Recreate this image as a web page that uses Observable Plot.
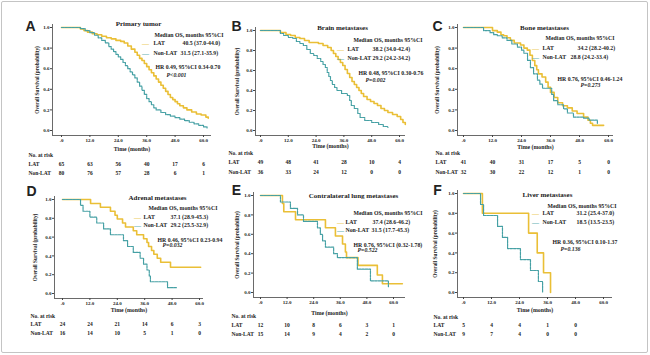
<!DOCTYPE html>
<html><head><meta charset="utf-8">
<script src="https://cdn.jsdelivr.net/npm/d3@7"></script>
<script src="https://cdn.jsdelivr.net/npm/@observablehq/plot@0.6"></script>
<style>
html,body{margin:0;padding:0;background:#fff;}
#frame{position:relative;width:650px;height:355px;overflow:hidden;background:#fff;}
#border{position:absolute;left:1px;top:1px;width:645px;height:350px;border:1.5px solid #c4c4c4;border-radius:2px;}
#frame svg{position:absolute;overflow:visible;}
</style></head><body><div id="frame"><div id="border"></div></div>
<script>
// ---------- DATA ----------
const timeTicks = [0, 12, 24, 36, 48, 60];
const survTicks = [0, 0.2, 0.4, 0.6, 0.8, 1.0];
const riskTimes = [0, 12, 24, 36, 48, 60];
const groupNames = ["LAT", "Non-LAT"];
const panelLetters = ["A", "B", "C", "D", "E", "F"];
const panelTitles = ["Primary tumor", "Brain metastases", "Bone metastases", "Adrenal metastases", "Contralateral lung metastases", "Liver metastases"];
const medianLAT = ["40.5 (37.0-44.0)", "38.2 (34.0-42.4)", "34.2 (28.2-40.2)", "37.1 (28.9-45.3)", "37.4 (28.6-46.2)", "31.2 (25.4-37.0)"];
const medianNonLAT = ["31.5 (27.1-35.9)", "29.2 (24.2-34.2)", "28.8 (24.2-33.4)", "29.2 (25.5-32.9)", "31.5 (17.7-45.3)", "18.5 (13.5-23.5)"];
const hrText = ["HR 0.49, 95%CI 0.34-0.70", "HR 0.48, 95%CI 0.30-0.76", "HR 0.76, 95%CI 0.46-1.24", "HR 0.46, 95%CI 0.23-0.94", "HR 0.76, 95%CI (0.32-1.78)", "HR 0.36, 95%CI 0.10-1.37"];
const pText = ["P<0.001", "P=0.002", "P=0.273", "P=0.032", "P=0.522", "P=0.136"];

// Kaplan-Meier steps [month, survival]
const primaryLAT = [[0,1],[8,0.985],[9.5,0.97],[11,0.955],[13,0.94],[15,0.93],[17,0.915],[19,0.9],[21,0.89],[23,0.875],[25,0.865],[26.5,0.85],[28,0.82],[29.5,0.79],[31,0.76],[32,0.73],[33,0.7],[34,0.68],[35,0.65],[36,0.62],[37,0.59],[38,0.56],[39,0.53],[40,0.5],[41,0.47],[42,0.44],[43,0.41],[44,0.38],[45,0.35],[46,0.32],[47,0.3],[48,0.28],[49,0.26],[50,0.24],[51.5,0.22],[53,0.2],[55,0.18],[57,0.16],[59,0.15],[61,0.13],[62,0.12]];
const primaryNon = [[0,1],[8,0.99],[10,0.97],[12,0.95],[14,0.925],[15.5,0.9],[17,0.875],[18.5,0.85],[20,0.815],[21,0.79],[22,0.765],[23,0.74],[24,0.715],[25,0.69],[26,0.66],[27,0.63],[28,0.6],[29,0.57],[30,0.54],[31,0.51],[32,0.47],[33,0.43],[34,0.39],[35,0.35],[36,0.31],[37,0.28],[38,0.25],[39,0.22],[40,0.2],[42,0.175],[44,0.155],[46,0.14],[48,0.125],[50,0.11],[52,0.095],[54,0.08],[56,0.065],[58,0.05],[60,0.035],[61.5,0.025]];
const brainLAT = [[0,1],[8.6,0.98],[11,0.96],[13,0.95],[15,0.93],[17,0.92],[19,0.9],[21,0.88],[25,0.87],[27,0.85],[29,0.83],[30.5,0.8],[31.5,0.77],[32.5,0.74],[33.5,0.71],[34.5,0.68],[35.5,0.65],[36.5,0.61],[37.5,0.57],[38.5,0.53],[39.5,0.49],[40.5,0.46],[41.5,0.43],[42.5,0.4],[43.5,0.37],[44.5,0.34],[46,0.31],[47.5,0.29],[49,0.27],[50.5,0.25],[52,0.22],[53.5,0.2],[55,0.18],[57,0.16],[59,0.14],[60.5,0.11],[61.5,0.08],[62.5,0.06]];
const brainNon = [[0,1],[8.6,0.97],[10,0.95],[12,0.93],[14,0.92],[15.5,0.89],[17,0.87],[18.5,0.85],[20,0.81],[21.5,0.77],[23,0.75],[24.5,0.72],[26,0.69],[27,0.66],[28,0.63],[28.8,0.58],[29.5,0.54],[30.2,0.5],[31,0.46],[32,0.43],[33,0.4],[35,0.37],[37.5,0.35],[38.5,0.3],[39.2,0.25],[40.5,0.22],[42,0.17],[43,0.13],[45,0.1],[48,0.08],[51,0.06],[53,0.04],[55,0.03]];
const boneLAT = [[0,1],[12,0.97],[14,0.955],[15.5,0.93],[16.6,0.92],[18,0.9],[19.4,0.875],[21,0.85],[23.6,0.83],[25,0.8],[26.4,0.78],[27.5,0.73],[28.5,0.68],[29.5,0.63],[30.3,0.59],[31,0.55],[32.5,0.52],[34,0.47],[35,0.42],[36,0.37],[37.5,0.32],[39,0.27],[41,0.24],[43,0.22],[45,0.19],[47,0.165],[49.7,0.13],[51.5,0.1],[52.5,0.07],[53.4,0.05],[58,0.05]];
const boneNon = [[0,1],[8.3,0.97],[11,0.95],[12.5,0.93],[14,0.92],[16,0.9],[18,0.875],[20,0.84],[22.3,0.81],[24,0.78],[25,0.75],[26.5,0.68],[27.7,0.61],[29,0.55],[30.6,0.49],[31.6,0.45],[32.7,0.41],[36,0.41],[36.5,0.35],[37.3,0.29],[39,0.25],[41.4,0.21],[43,0.17],[45.5,0.13],[49.7,0.12],[52,0.1],[55.4,0.07]];
const adrenalLAT = [[0,1],[12.3,0.958],[16.6,0.917],[21,0.875],[23,0.833],[24,0.792],[26.3,0.75],[27.6,0.708],[31,0.667],[32.5,0.625],[35.5,0.583],[37,0.542],[37.7,0.5],[39,0.458],[40,0.417],[41.5,0.375],[43,0.333],[47.3,0.28],[60.5,0.28]];
const adrenalNon = [[0,1],[7.9,0.9375],[9,0.875],[12,0.8125],[15,0.75],[18,0.6875],[21,0.625],[26.7,0.5625],[28.5,0.5],[31,0.4375],[34,0.375],[35.5,0.3125],[37,0.25],[38,0.1875],[38.5,0.125],[46,0.0625],[50,0.0625]];
const lungLAT = [[0,1],[9.9,0.917],[10.5,0.833],[15.8,0.75],[29.3,0.667],[33.8,0.583],[37,0.5],[38.3,0.417],[38.8,0.36],[44,0.28],[52.7,0.18],[55,0.09],[64,0.09]];
const lungNon = [[0,1],[9,0.933],[13.5,0.867],[16.7,0.8],[19.4,0.733],[25.7,0.667],[27,0.6],[28,0.533],[29.3,0.467],[33,0.4],[34.7,0.36],[43.7,0.24],[49.6,0.12],[57.7,0.06]];
const liverLAT = [[0,1],[8.1,0.8],[27.9,0.6],[31.6,0.4],[34.3,0.2],[37.3,0]];
const liverNon = [[0,1],[7.3,0.889],[8.6,0.778],[14.6,0.667],[16.7,0.556],[18.9,0.444],[24.4,0.333],[28.7,0.222],[32.1,0.111],[33.9,0]];

// numbers at risk
const primaryRiskLAT = [65, 63, 56, 40, 17, 6];
const primaryRiskNon = [80, 76, 57, 28, 6, 1];
const brainRiskLAT = [49, 48, 41, 28, 10, 4];
const brainRiskNon = [36, 33, 24, 12, 0, 0];
const boneRiskLAT = [41, 40, 31, 17, 5, 0];
const boneRiskNon = [32, 30, 22, 12, 1, 0];
const adrenalRiskLAT = [24, 24, 21, 14, 6, 3];
const adrenalRiskNon = [16, 14, 10, 5, 1, 0];
const lungRiskLAT = [12, 10, 8, 6, 3, 1];
const lungRiskNon = [15, 14, 9, 4, 2, 0];
const liverRiskLAT = [5, 4, 4, 1, 0];
const liverRiskNon = [9, 7, 4, 0, 0];

// ---------- LAYOUT (pixel placement only) ----------
const layouts = [
  {left:0, top:0, w:215, h:178, axisL:52, axisR:211, x0:61, x60:203, y1:27, y0:130, axisY:135,
   letter:[30,26], title:[138,23], timeY:149, ylabX:37, riskX:28, riskY:[155,164,173],
   med:[154,35], sw:145, name:153, latY:43, latV:182, nonY:53, nonV:180, hr:[155,67], p:[176,75]},
  {left:210, top:0, w:215, h:178, axisL:255, axisR:405, x0:260, x60:399, y1:30, y0:130, axisY:135,
   letter:[236,26], title:[342,27], timeY:146, ylabX:237, riskX:228, riskY:[153,162,172],
   med:[353,40], sw:340, name:347, latY:49, latV:372, nonY:58, nonV:372, hr:[358,73], p:[375,80]},
  {left:420, top:0, w:228, h:178, axisL:457, axisR:613, x0:463, x60:608, y1:27, y0:130, axisY:135,
   letter:[437,26], title:[544,27], timeY:147, ylabX:437, riskX:435, riskY:[153,162,172],
   med:[545,38], sw:535, name:542, latY:48, latV:577, nonY:57, nonV:570, hr:[557,79], p:[590,85]},
  {left:0, top:178, w:215, h:177, axisL:54, axisR:203, x0:62, x60:199, y1:199, y0:293, axisY:298,
   letter:[31,191], title:[157,197], timeY:310, ylabX:35, riskX:30, riskY:[316,324,333],
   med:[148,208], sw:137, name:143, latY:217, latV:170, nonY:225, nonV:170, hr:[157,240], p:[172,245]},
  {left:210, top:178, w:215, h:177, axisL:253, axisR:405, x0:260, x60:393, y1:195, y0:292, axisY:297,
   letter:[236,190], title:[353,195], timeY:313, ylabX:237, riskX:231, riskY:[316,325,334],
   med:[353,213], sw:340, name:345, latY:222, latV:372, nonY:230, nonV:371, hr:[353,245], p:[367,250]},
  {left:420, top:178, w:228, h:177, axisL:457, axisR:612, x0:463, x60:603, y1:193, y0:292, axisY:297,
   letter:[437,190], title:[547,194], timeY:310, ylabX:435, riskX:433, riskY:[317,325,334],
   med:[547,206], sw:535, name:542, latY:213, latV:576, nonY:222, nonV:576, hr:[552,242], p:[570,249]}
];

const curves = [[primaryLAT, primaryNon],[brainLAT, brainNon],[boneLAT, boneNon],[adrenalLAT, adrenalNon],[lungLAT, lungNon],[liverLAT, liverNon]];
const risks = [[primaryRiskLAT, primaryRiskNon],[brainRiskLAT, brainRiskNon],[boneRiskLAT, boneRiskNon],[adrenalRiskLAT, adrenalRiskNon],[lungRiskLAT, lungRiskNon],[liverRiskLAT, liverRiskNon]];

const GOLD = "#EABF36", TEAL = "#45A0A4", AXIS = "#444";
const SERIF = "'Liberation Serif','Times New Roman',serif";
const SANS = "'Liberation Sans',Arial,sans-serif";
const fmtTime = d => d === 0 ? ".0" : d.toFixed(1);
const frame = document.getElementById("frame");

layouts.forEach((P, i) => {
  const k = (P.x60 - P.x0) / 60;
  const xdom = [(P.axisL - P.x0) / k, (P.axisR - P.x0) / k];
  const pyu = P.y0 - P.y1;
  const topPx = P.y1 - 3;
  const ydom = [-(P.axisY - P.y0) / pyu, 1 + 3 / pyu];
  const at = (str, ax, ay, o = {}) => Plot.text([str], {text: d => d, frameAnchor: "top-left",
    dx: ax - P.axisL, dy: ay - topPx, textAnchor: "start", lineAnchor: "middle", fontSize: 5.8, ...o});
  const rows = vals => vals.map((n, j) => ({t: riskTimes[j], n}));
  const [lat, non] = curves[i];
  const [rL, rN] = risks[i];

  const plot = Plot.plot({
    width: P.w, height: P.h,
    marginLeft: P.axisL - P.left, marginRight: P.w - (P.axisR - P.left),
    marginTop: topPx - P.top, marginBottom: P.h - (P.axisY - P.top),
    x: {domain: xdom}, y: {domain: ydom},
    style: {background: "transparent", fontFamily: SERIF, fontWeight: "bold", fontSize: "5px", overflow: "visible", color: "#222"},
    marks: [
      Plot.ruleY([ydom[0]], {stroke: AXIS, strokeWidth: 0.8}),
      Plot.ruleX([xdom[0]], {stroke: AXIS, strokeWidth: 0.8}),
      Plot.axisX({ticks: timeTicks, tickFormat: fmtTime, tickSize: 2, tickPadding: 1, label: null, stroke: AXIS}),
      Plot.axisY({ticks: survTicks, tickFormat: d => d.toFixed(1), tickSize: 2, tickPadding: 1, label: null, stroke: AXIS}),
      Plot.line(lat, {x: d => d[0], y: d => d[1], curve: "step-after", stroke: GOLD, strokeWidth: 1.6}),
      Plot.line(non, {x: d => d[0], y: d => d[1], curve: "step-after", stroke: TEAL, strokeWidth: 1.2, strokeDasharray: "2.5,1"}),
      // panel letter & title
      at(panelLetters[i], P.letter[0], P.letter[1], {fontFamily: SANS, fontSize: 14, textAnchor: "middle"}),
      at(panelTitles[i], P.title[0], P.title[1], {fontSize: 7, textAnchor: "middle"}),
      // axis titles
      Plot.text(["Time (months)"], {text: d => d, frameAnchor: "top", dy: P.timeY - topPx, textAnchor: "middle", lineAnchor: "middle", fontSize: 5.8}),
      Plot.text(["Overall Survival (probability)"], {text: d => d, frameAnchor: "left", dx: P.ylabX - P.axisL, rotate: -90, textAnchor: "middle", lineAnchor: "middle", fontSize: 5.3}),
      // legend
      at("Median OS, months 95%CI", P.med[0], P.med[1]),
      at("—", P.sw, P.latY, {fill: GOLD, textAnchor: "middle", fontSize: 7}),
      at("—", P.sw, P.nonY, {fill: TEAL, textAnchor: "middle", fontSize: 7}),
      at(groupNames[0], P.name, P.latY),
      at(medianLAT[i], P.latV, P.latY),
      at(groupNames[1], P.name, P.nonY),
      at(medianNonLAT[i], P.nonV, P.nonY),
      at(hrText[i], P.hr[0], P.hr[1]),
      at(pText[i], P.p[0], P.p[1], {textAnchor: "middle", fontStyle: "italic"}),
      // risk table
      at("No. at risk", P.riskX, P.riskY[0], {fontSize: 5.5}),
      at(groupNames[0], P.riskX, P.riskY[1], {fontSize: 5.5}),
      at(groupNames[1], P.riskX, P.riskY[2], {fontSize: 5.5}),
      Plot.text(rows(rL), {x: "t", text: "n", frameAnchor: "top", dy: P.riskY[1] - topPx, lineAnchor: "middle", fontSize: 5.5}),
      Plot.text(rows(rN), {x: "t", text: "n", frameAnchor: "top", dy: P.riskY[2] - topPx, lineAnchor: "middle", fontSize: 5.5})
    ]
  });
  plot.style.left = P.left + "px";
  plot.style.top = P.top + "px";
  frame.append(plot);
});
</script>
</body></html>
